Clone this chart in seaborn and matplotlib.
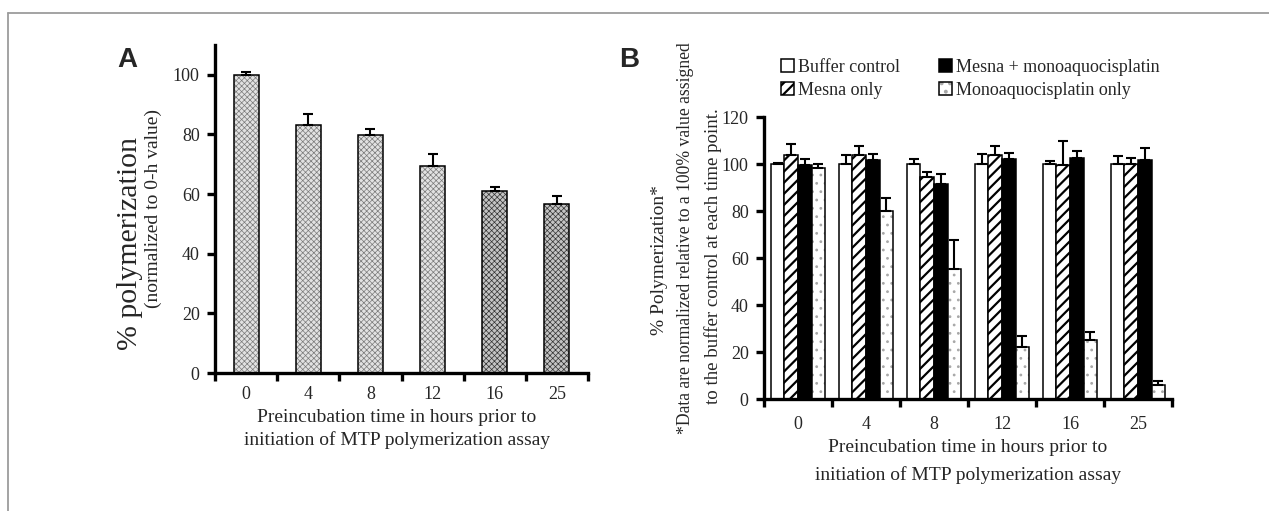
import numpy as np
import pandas as pd
import matplotlib
matplotlib.use("Agg")
import matplotlib.pyplot as plt
import seaborn as sns
from matplotlib.lines import Line2D

# ---------------- data ----------------
times = ["0", "4", "8", "12", "16", "25"]

# Panel A
polym_a = [100.0, 83.1, 79.9, 69.4, 61.2, 56.7]
err_a = [0.8, 3.7, 2.0, 4.2, 1.3, 2.7]

# Panel B
treatments = ["Buffer control", "Mesna only",
              "Mesna + monoaquocisplatin", "Monoaquocisplatin only"]
buffer_b = [100.0, 100.0, 100.0, 100.0, 100.0, 100.0]
buffer_err = [0.5, 3.9, 2.2, 4.3, 1.2, 3.2]
mesna_b = [103.8, 103.9, 94.4, 103.9, 99.6, 100.0]
mesna_err = [4.6, 3.7, 2.1, 3.6, 10.4, 2.5]
combo_b = [99.6, 101.8, 91.5, 102.3, 102.6, 101.5]
combo_err = [2.7, 2.6, 4.3, 2.2, 3.0, 5.3]
mono_b = [98.2, 79.9, 55.2, 22.1, 25.3, 5.8]
mono_err = [1.8, 5.5, 12.4, 4.7, 3.3, 1.7]

xlabel_lines = ["Preincubation time in hours prior to",
                "initiation of MTP polymerization assay"]

# ---------------- style ----------------
sns.set_theme(style="white")
plt.rcParams['font.family'] = ['Liberation Serif', 'DejaVu Serif']
plt.rcParams['hatch.linewidth'] = 1.6

W, H = 1269, 511
fig = plt.figure(figsize=(W / 100, H / 100), dpi=100)
fig.patch.set_facecolor("white")


def rect(x0, y0, x1, y1):
    return [x0 / W, 1 - y1 / H, (x1 - x0) / W, (y1 - y0) / H]


def fx(x):
    return x / W


def fy(y):
    return 1 - y / H


SPINE_W = 2.4


def style_axes(ax, ymax, yticks):
    for s in ["top", "right"]:
        ax.spines[s].set_visible(False)
    for s in ["left", "bottom"]:
        ax.spines[s].set_linewidth(SPINE_W)
        ax.spines[s].set_color("black")
    ax.set_ylim(0, ymax)
    ax.set_yticks(yticks)
    ax.set_xlim(-0.5, len(times) - 0.5)
    ax.set_xticks(np.arange(-0.5, len(times), 1.0), minor=True)
    ax.tick_params(axis="y", which="major", direction="out", length=6,
                   width=SPINE_W, color="black", labelsize=13, pad=5,
                   left=True)
    ax.tick_params(axis="x", which="major", length=0, labelsize=13,
                   bottom=True)
    ax.tick_params(axis="x", which="minor", direction="out", length=6,
                   width=SPINE_W, color="black", bottom=True)
    ax.set_xlabel("")
    ax.set_ylabel("")
    ax.grid(False)
    ax.set_facecolor("white")


# ---------------- Panel A ----------------
axA = fig.add_axes(rect(215, 45, 588, 373))
dfA = pd.DataFrame({"time": times, "polym": polym_a})
face_a = {"0": "#e2e2e2", "4": "#e2e2e2", "8": "#e2e2e2", "12": "#e2e2e2",
          "16": "#c4c4c4", "25": "#c4c4c4"}
hatchc_a = {"0": "#7a7a7a", "4": "#7a7a7a", "8": "#7a7a7a", "12": "#7a7a7a",
            "16": "#333333", "25": "#333333"}
sns.barplot(data=dfA, x="time", y="polym", hue="time", order=times,
            hue_order=times, palette=face_a, legend=False, width=0.4,
            edgecolor="black", linewidth=1.1, errorbar=None, ax=axA)
barsA = sorted(axA.patches, key=lambda p: p.get_x())
for t, p in zip(times, barsA):
    p.set_hatch("xxxxxx")
    p._hatch_color = matplotlib.colors.to_rgba(hatchc_a[t])
    if hasattr(p, "set_hatch_linewidth"):
        p.set_hatch_linewidth(0.5)
xA = [p.get_x() + p.get_width() / 2 for p in barsA]
axA.errorbar(xA, polym_a, yerr=[np.zeros(len(err_a)), err_a], fmt="none",
             ecolor="black", elinewidth=1.5, capsize=3.5, capthick=1.5,
             zorder=1)
style_axes(axA, 110, range(0, 101, 20))
axA.tick_params(axis="x", which="major", pad=9)

# y label (two lines, different sizes)
fig.text(fx(130), fy(244), "% polymerization", rotation=90,
         ha="center", va="center", fontsize=21.5)
fig.text(fx(153), fy(209), "(normalized to 0-h value)", rotation=90,
         ha="center", va="center", fontsize=14)
fig.text(fx(397), fy(417), xlabel_lines[0], ha="center", va="center",
         fontsize=14)
fig.text(fx(397), fy(440), xlabel_lines[1], ha="center", va="center",
         fontsize=14)
fig.text(fx(127), fy(60), "A", ha="center", va="center", fontsize=20,
         fontweight="bold", family=["Liberation Sans", "DejaVu Sans"])

# ---------------- Panel B ----------------
axB = fig.add_axes(rect(764, 117, 1172, 399))
dfB = pd.DataFrame({
    "time": times * 4,
    "treatment": np.repeat(treatments, len(times)),
    "value": buffer_b + mesna_b + combo_b + mono_b,
})
errs_b = [buffer_err, mesna_err, combo_err, mono_err]
face_b = {treatments[0]: "white", treatments[1]: "white",
          treatments[2]: "black", treatments[3]: "white"}
hatch_b = {treatments[0]: "", treatments[1]: "///",
           treatments[2]: "", treatments[3]: ".."}
hatchc_b = {treatments[0]: "black", treatments[1]: "black",
            treatments[2]: "black", treatments[3]: "#a8a8a8"}
sns.barplot(data=dfB, x="time", y="value", hue="treatment", order=times,
            hue_order=treatments, palette=face_b, width=0.8, gap=0,
            edgecolor="black", linewidth=1.1, errorbar=None, legend=False,
            ax=axB)
handles = []
for tr, cont, er in zip(treatments, axB.containers, errs_b):
    bars = list(cont.patches)
    for p in bars:
        p.set_hatch(hatch_b[tr])
        p._hatch_color = matplotlib.colors.to_rgba(hatchc_b[tr])
        if hasattr(p, "set_hatch_linewidth"):
            p.set_hatch_linewidth(1.6 if tr == treatments[1] else 0.8)
    xs = [p.get_x() + p.get_width() / 2 for p in bars]
    ys = [p.get_height() for p in bars]
    axB.errorbar(xs, ys, yerr=[np.zeros(len(er)), er], fmt="none",
                 ecolor="black", elinewidth=1.5, capsize=3.5, capthick=1.5,
                 zorder=1)
    handles.append(bars[0])
style_axes(axB, 120, range(0, 121, 20))
axB.tick_params(axis="x", which="major", pad=12)

leg = fig.legend(handles, treatments, ncol=2, frameon=False,
                 loc="upper left", bbox_to_anchor=(fx(781), fy(59)),
                 fontsize=13, handlelength=0.7, handleheight=0.7,
                 handletextpad=0.25, columnspacing=2.15, labelspacing=0.32,
                 borderpad=0, borderaxespad=0)

fig.text(fx(659), fy(260), "% Polymerization*", rotation=90,
         ha="center", va="center", fontsize=14)
fig.text(fx(686), fy(238),
         "*Data are normalized relative to a 100% value assigned",
         rotation=90, ha="center", va="center", fontsize=12.7)
fig.text(fx(713), fy(256), "to the buffer control at each time point.",
         rotation=90, ha="center", va="center", fontsize=13.6)
fig.text(fx(968), fy(448), xlabel_lines[0], ha="center", va="center",
         fontsize=14)
fig.text(fx(968), fy(475), xlabel_lines[1], ha="center", va="center",
         fontsize=14)
fig.text(fx(629), fy(60), "B", ha="center", va="center", fontsize=20,
         fontweight="bold", family=["Liberation Sans", "DejaVu Sans"])

# outer frame (top and left edges)
fig.add_artist(Line2D([fx(8), 1.0], [fy(13), fy(13)],
                      transform=fig.transFigure, color="#9c9c9c", lw=1.3))
fig.add_artist(Line2D([fx(8), fx(8)], [0.0, fy(13)],
                      transform=fig.transFigure, color="#9c9c9c", lw=1.3))

fig.savefig("out.png", dpi=100, facecolor="white")
